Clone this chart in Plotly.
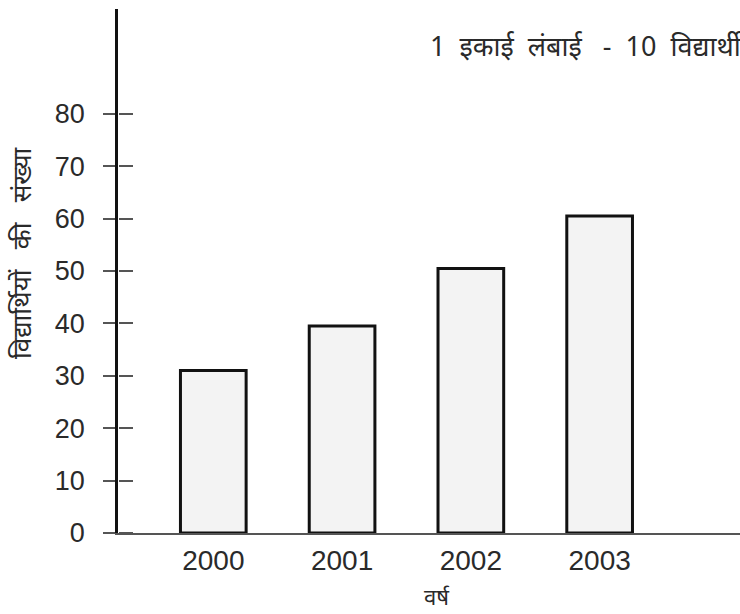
import plotly.graph_objects as go

years = ["2000", "2001", "2002", "2003"]
students = [31, 39.5, 50.5, 60.5]
y_ticks = [0, 10, 20, 30, 40, 50, 60, 70, 80]

y_title = "विद्यार्थियों   की   संख्या"
x_title = "वर्ष"
scale_note = "1  इकाई  लंबाई   -  10  विद्यार्थी"

txt_font = "Noto Sans, Noto Sans Devanagari, Lohit Devanagari, sans-serif"
num_font = "Liberation Sans, Arial, sans-serif"

fig = go.Figure()

fig.add_trace(go.Bar(
    x=years,
    y=students,
    width=0.51,
    marker=dict(color="#f3f3f3", line=dict(color="#111111", width=3)),
    showlegend=False,
))

# invisible trace so the second axis (inner half of the crossing ticks) is drawn
fig.add_trace(go.Scatter(x=[years[0]], y=[0], yaxis="y2", mode="markers",
                         marker=dict(opacity=0), showlegend=False, hoverinfo="skip"))

fig.update_layout(
    width=740,
    height=614,
    margin=dict(l=118, r=0, t=9, b=81, autoexpand=False),
    plot_bgcolor="white",
    paper_bgcolor="white",
    xaxis=dict(
        type="category",
        range=[-0.74, 4.09],
        showgrid=False,
        showline=True,
        linecolor="#555555",
        linewidth=2,
        ticks="",
        ticklabelstandoff=1,
        automargin=False,
        tickfont=dict(family=num_font, size=28, color="#2a2a2a"),
    ),
    yaxis=dict(
        range=[0, 100],
        tickvals=y_ticks,
        showgrid=False,
        zeroline=False,
        showline=True,
        linecolor="#111111",
        linewidth=2.5,
        ticks="outside",
        ticklen=12,
        tickwidth=2,
        tickcolor="#555555",
        ticklabelstandoff=13,
        automargin=False,
        tickfont=dict(family=num_font, size=27, color="#2a2a2a"),
    ),
    yaxis2=dict(
        overlaying="y",
        anchor="free",
        position=0,
        side="right",
        range=[0, 100],
        tickvals=y_ticks,
        showticklabels=False,
        showgrid=False,
        zeroline=False,
        showline=False,
        ticks="outside",
        ticklen=14,
        tickwidth=2,
        tickcolor="#555555",
        automargin=False,
    ),
    annotations=[
        dict(text=y_title, textangle=-90, x=21, y=253, showarrow=False,
             font=dict(family=txt_font, size=26, color="#2a2a2a")),
        dict(text=x_title, x=437, y=596, showarrow=False,
             font=dict(family=txt_font, size=22, color="#2a2a2a")),
        dict(text=scale_note, x=428, y=45, xanchor="left", showarrow=False,
             font=dict(family=txt_font, size=27, color="#2a2a2a")),
    ],
)

# annotation positions above are given in pixels; convert to paper fractions
W, H = 740, 614
L, R, T, B = 118, 0, 9, 81
pw, ph = W - L - R, H - T - B
for a in fig.layout.annotations:
    px_x, px_y = a.x, a.y
    a.update(xref="paper", yref="paper", yanchor="middle",
             x=(px_x - L) / pw, y=(H - B - px_y) / ph)
    if a.xanchor is None:
        a.update(xanchor="center")

fig.write_html("out.html", config={"displayModeBar": False},
               post_script="document.body.style.margin='0';")
